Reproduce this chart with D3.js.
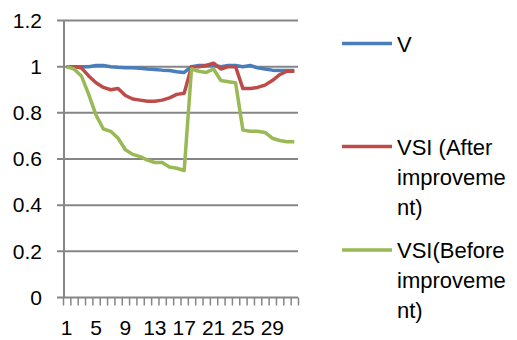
<!DOCTYPE html>
<html>
<head>
<meta charset="utf-8">
<script src="https://cdn.jsdelivr.net/npm/d3@7"></script>
<style>
  body { margin: 0; background: #fff; }
  svg text { font-family: "Liberation Sans", Arial, sans-serif; fill: #000; }
</style>
</head>
<body>
<div class="container"></div>
<script>
const width = 517;
const height = 340;
const plot = {left: 63, right: 298, top: 20.5, bottom: 297.5};

const categories = ["1","2","3","4","5","6","7","8","9","10","11","12","13","14","15","16",
                    "17","18","19","20","21","22","23","24","25","26","27","28","29","30","31","32"];
const tickLabels = ["1","5","9","13","17","21","25","29"];
const yTicks = [0, 0.2, 0.4, 0.6, 0.8, 1, 1.2];

const vValues = [1.0, 1.0, 1.0, 1.0, 1.005, 1.005, 1.0, 0.997, 0.995, 0.995, 0.993, 0.99, 0.988, 0.985, 0.983, 0.978,
                 0.975, 1.0, 1.005, 1.005, 1.005, 1.0, 1.005, 1.005, 1.0, 1.005, 0.995, 0.99, 0.985, 0.983, 0.983, 0.983];
const vsiAfter = [1.0, 1.0, 0.995, 0.96, 0.93, 0.91, 0.9, 0.905, 0.875, 0.86, 0.855, 0.85, 0.85, 0.855, 0.865, 0.88,
                  0.885, 1.0, 1.0, 1.005, 1.015, 0.99, 1.0, 1.0, 0.905, 0.905, 0.91, 0.92, 0.94, 0.965, 0.98, 0.98];
const vsiBefore = [1.0, 0.99, 0.96, 0.88, 0.79, 0.73, 0.72, 0.69, 0.64, 0.62, 0.61, 0.595, 0.585, 0.585, 0.565, 0.56,
                   0.55, 0.99, 0.98, 0.975, 0.99, 0.94, 0.935, 0.93, 0.725, 0.72, 0.72, 0.715, 0.69, 0.68, 0.675, 0.675];

const seriesNames = ["V", "VSI (After improvement)", "VSI(Before improvement)"];
const legendLines = [["V"], ["VSI (After", "improveme", "nt)"], ["VSI(Before", "improveme", "nt)"]];
const colors = ["#4a7ebb", "#be4b48", "#98b954"];

const series = [vValues, vsiAfter, vsiBefore];

const svg = d3.select(".container").append("svg")
    .attr("width", width)
    .attr("height", height);

const xScale = d3.scaleBand()
    .domain(categories)
    .range([plot.left, plot.right]);

const yScale = d3.scaleLinear()
    .domain([0, 1.2])
    .range([plot.bottom, plot.top]);

// gridlines (extend a little past the axis as tick marks)
svg.append("g")
    .selectAll("line")
    .data(yTicks)
    .enter()
    .append("line")
    .attr("x1", plot.left - 6)
    .attr("x2", plot.right)
    .attr("y1", d => yScale(d))
    .attr("y2", d => yScale(d))
    .attr("stroke", "#868686")
    .attr("stroke-width", 2);

// y axis labels
const yAxis = d3.axisLeft(yScale)
    .tickValues(yTicks)
    .tickSize(0)
    .tickPadding(21)
    .tickFormat(d => d3.format("")(d));

svg.append("g")
    .attr("transform", `translate(${plot.left},0)`)
    .call(yAxis)
    .call(g => g.select(".domain").remove())
    .selectAll("text")
    .style("font-size", "21px")
    .style("font-family", "Liberation Sans, Arial, sans-serif")
    .attr("fill", "#000");

// vertical axis line
svg.append("line")
    .attr("x1", plot.left + 1).attr("x2", plot.left + 1)
    .attr("y1", plot.top).attr("y2", plot.bottom)
    .attr("stroke", "#868686")
    .attr("stroke-width", 2);

// x ticks at category boundaries
const boundaries = categories.map(c => xScale(c)).concat([xScale.range()[1]]);
svg.append("g")
    .selectAll("line")
    .data(boundaries)
    .enter()
    .append("line")
    .attr("x1", d => d + 0.5)
    .attr("x2", d => d + 0.5)
    .attr("y1", plot.bottom)
    .attr("y2", plot.bottom + 8)
    .attr("stroke", "#868686")
    .attr("stroke-width", 1.5);

// x labels
const xAxis = d3.axisBottom(xScale)
    .tickValues(tickLabels)
    .tickSize(0)
    .tickPadding(23);

svg.append("g")
    .attr("transform", `translate(0,${plot.bottom})`)
    .call(xAxis)
    .call(g => g.select(".domain").remove())
    .selectAll("text")
    .style("font-size", "21px")
    .style("font-family", "Liberation Sans, Arial, sans-serif")
    .attr("fill", "#000");

// lines
const line = d3.line()
    .x((d, i) => xScale(categories[i]) + xScale.bandwidth() / 2)
    .y(d => yScale(d));

svg.append("g")
    .selectAll("path")
    .data(series)
    .enter()
    .append("path")
    .attr("d", d => line(d))
    .attr("fill", "none")
    .attr("stroke", (d, i) => colors[i])
    .attr("stroke-width", 3.5)
    .attr("stroke-linejoin", "round");

// legend
const legendY = [43.5, 146.5, 250];
const legend = svg.append("g")
    .selectAll("g")
    .data(seriesNames)
    .enter()
    .append("g")
    .attr("transform", (d, i) => `translate(342,${legendY[i]})`);

legend.append("line")
    .attr("x1", 0)
    .attr("x2", 50)
    .attr("stroke", (d, i) => colors[i])
    .attr("stroke-width", 3.5);

legend.each(function(d, i) {
    d3.select(this)
        .selectAll("text")
        .data(legendLines[i])
        .enter()
        .append("text")
        .attr("x", 55)
        .attr("y", (t, j) => 8 + j * 30)
        .style("font-size", "22px")
        .text(t => t);
});
</script>
</body>
</html>
